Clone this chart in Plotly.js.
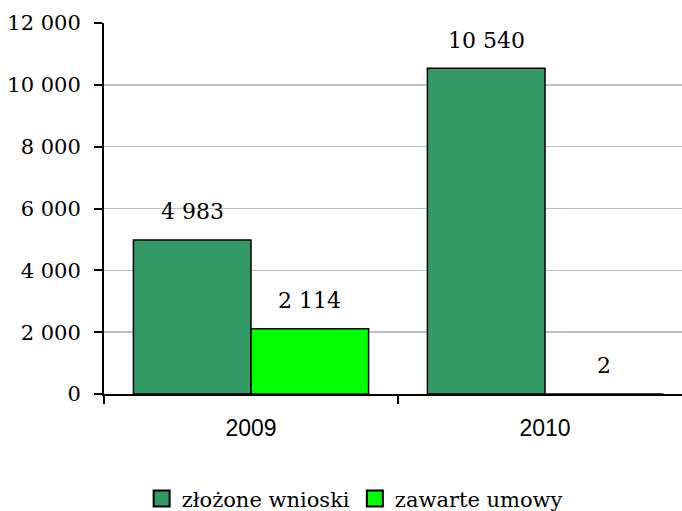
<!DOCTYPE html>
<html>
<head>
<meta charset="utf-8">
<script src="https://cdn.plot.ly/plotly-3.0.1.min.js"></script>
<style>html,body{margin:0;padding:0;background:#fff;}#chart{width:682px;height:511px;}</style>
</head>
<body>
<div id="chart"></div>
<script>
const categories = ['2009', '2010'];
const seriesNames = ['złożone wnioski', 'zawarte umowy'];
const wnioski = [4983, 10540];
const umowy = [2114, 2];
const seriesValues = [wnioski, umowy];
const seriesColors = ['#339966', '#00ff00'];
const yTickVals = [0, 2000, 4000, 6000, 8000, 10000, 12000];

const serif = 'DejaVu Serif';
const sans = 'Arial';

function fmt(v) { return String(v).replace(/\B(?=(\d{3})+(?!\d))/g, ' '); }

const barTraces = seriesValues.map((vals, i) => ({
  type: 'bar',
  name: seriesNames[i],
  x: categories,
  y: vals,
  marker: { color: seriesColors[i], line: { color: '#000', width: 1.5 } },
  showlegend: false,
  hoverinfo: 'none'
}));

// legend entries (larger square swatches, like the reference)
const legendTraces = seriesNames.map((name, i) => ({
  type: 'scatter',
  mode: 'markers',
  name: name,
  x: [null], y: [null],
  marker: { symbol: 'square', size: 16, color: seriesColors[i], line: { color: '#000', width: 2 } },
  showlegend: true,
  hoverinfo: 'none'
}));

const nSeries = seriesValues.length;
const bargap = 0.2;
const barW = (1 - bargap) / nSeries;
const annotations = [];
seriesValues.forEach((vals, i) => {
  vals.forEach((v, j) => {
    annotations.push({
      x: j - (1 - bargap) / 2 + barW * (i + 0.5),
      y: v,
      xref: 'x', yref: 'y',
      text: fmt(v),
      showarrow: false,
      yanchor: 'middle',
      yshift: 28,
      font: { family: serif, size: 22, color: '#000' }
    });
  });
});

const layout = {
  width: 682, height: 511,
  margin: { l: 104, r: 0, t: 23, b: 117 },
  paper_bgcolor: '#fff', plot_bgcolor: '#fff',
  separators: ', ',
  barmode: 'group',
  bargap: bargap,
  bargroupgap: 0,
  showlegend: true,
  legend: {
    orientation: 'h',
    xref: 'container', yref: 'container',
    x: 0.52, xanchor: 'center',
    y: 0.024, yanchor: 'middle',
    font: { family: serif, size: 21, color: '#000' },
    itemwidth: 30,
    traceorder: 'normal'
  },
  xaxis: {
    type: 'category',
    range: [-0.5, 1.466],
    showline: true, linecolor: '#000', linewidth: 2,
    ticks: 'outside', tickson: 'boundaries', ticklen: 8, tickwidth: 2, tickcolor: '#000',
    showgrid: false, zeroline: false,
    tickfont: { family: sans, size: 23, color: '#000' },
    ticklabelstandoff: 12,
    fixedrange: true
  },
  yaxis: {
    range: [0, 12000],
    tickvals: yTickVals,
    tickformat: ',d',
    showline: true, linecolor: '#000', linewidth: 2,
    ticks: 'outside', ticklen: 8, tickwidth: 2, tickcolor: '#000',
    showgrid: true, gridcolor: '#c0c0c0', gridwidth: 1.5,
    zeroline: false,
    tickfont: { family: serif, size: 21, color: '#000' },
    ticklabelstandoff: 9,
    fixedrange: true
  },
  annotations: annotations
};

Plotly.newPlot('chart', barTraces.concat(legendTraces), layout, { staticPlot: true, displayModeBar: false });
</script>
</body>
</html>
